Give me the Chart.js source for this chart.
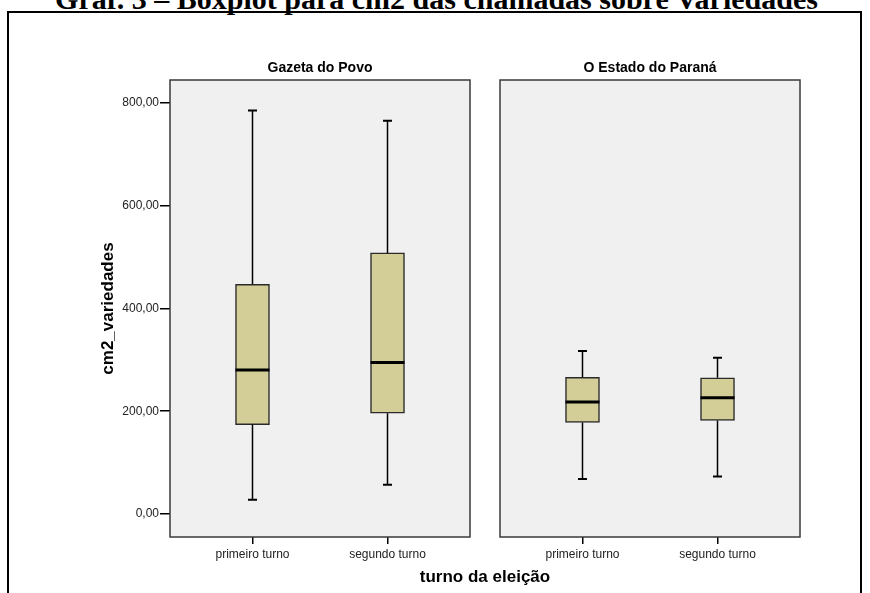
<!DOCTYPE html>
<html>
<head>
<meta charset="utf-8">
<script src="https://cdn.jsdelivr.net/npm/chart.js@4.4.0/dist/chart.umd.min.js"></script>
<style>
  body { margin: 0; background: #fff; width: 870px; height: 593px; overflow: hidden; position: relative; }
  #titulo { position: absolute; left: 0; top: -18px; width: 873px; line-height: 30px; text-align: center;
            font: bold 30px "Liberation Serif", "Times New Roman", serif; color: #000; white-space: nowrap; }
  #moldura { position: absolute; left: 7px; top: 11px; width: 851px; height: 620px; border: 2px solid #000; }
  #c1 { position: absolute; left: 0; top: 0; }
  #c2 { position: absolute; left: 485px; top: 0; }
  #eixo-x { position: absolute; left: 335px; top: 567px; width: 300px; line-height: 20px; text-align: center;
            font: bold 17px "Liberation Sans", Arial, sans-serif; color: #000; }
</style>
</head>
<body>
<div id="moldura"></div>
<div id="titulo">Graf. 3 – Boxplot para cm2 das chamadas sobre Variedades</div>
<canvas id="c1" width="485" height="593"></canvas>
<canvas id="c2" width="385" height="593"></canvas>
<div id="eixo-x">turno da eleição</div>
<script>
// categorias e paineis
const categorias = ['primeiro turno', 'segundo turno'];
const jornais = ['Gazeta do Povo', 'O Estado do Paraná'];
const yTicks = [0, 200, 400, 600, 800];
const yTickLabels = ['0,00', '200,00', '400,00', '600,00', '800,00'];

// Gazeta do Povo (primeiro turno, segundo turno)
const gazetaMin = [28, 57];
const gazetaQ1 = [174, 196];
const gazetaMediana = [280, 295];
const gazetaQ3 = [447, 508];
const gazetaMax = [785, 765];

// O Estado do Paraná
const estadoMin = [68, 73];
const estadoQ1 = [178, 182];
const estadoMediana = [218, 226];
const estadoQ3 = [266, 265];
const estadoMax = [317, 304];

const fonte = '"Liberation Sans", Arial, sans-serif';

function criaPainel(canvasId, titulo, vMin, vQ1, vMed, vQ3, vMax, comEixoY) {
    const ctx = document.getElementById(canvasId).getContext('2d');

    // fundo e moldura do painel, titulo do painel, bigodes e mediana
    const caixaPlugin = {
        id: 'caixa' + canvasId,
        beforeDraw(chart) {
            const a = chart.chartArea;
            const c = chart.ctx;
            c.save();
            c.fillStyle = '#f0f0f0';
            c.fillRect(a.left, a.top, a.right - a.left, a.bottom - a.top);
            c.fillStyle = '#000';
            c.font = 'bold 14px ' + fonte;
            c.textAlign = 'center';
            c.textBaseline = 'middle';
            c.fillText(titulo, (a.left + a.right) / 2, 68);
            c.restore();
        },
        afterDatasetsDraw(chart) {
            const c = chart.ctx;
            const sx = chart.scales.x, sy = chart.scales.y;
            c.save();
            c.strokeStyle = '#000';
            for (let i = 0; i < categorias.length; i++) {
                const x = sx.getPixelForValue(i);
                // bigodes
                c.lineWidth = 1.5;
                c.beginPath();
                c.moveTo(x, sy.getPixelForValue(vQ3[i]));
                c.lineTo(x, sy.getPixelForValue(vMax[i]));
                c.moveTo(x, sy.getPixelForValue(vQ1[i]));
                c.lineTo(x, sy.getPixelForValue(vMin[i]));
                c.stroke();
                // extremidades
                c.lineWidth = 2;
                c.beginPath();
                c.moveTo(x - 4.5, sy.getPixelForValue(vMax[i]));
                c.lineTo(x + 4.5, sy.getPixelForValue(vMax[i]));
                c.moveTo(x - 4.5, sy.getPixelForValue(vMin[i]));
                c.lineTo(x + 4.5, sy.getPixelForValue(vMin[i]));
                c.stroke();
                // mediana
                c.lineWidth = 3;
                c.beginPath();
                c.moveTo(x - 17, sy.getPixelForValue(vMed[i]));
                c.lineTo(x + 17, sy.getPixelForValue(vMed[i]));
                c.stroke();
            }
            c.restore();
        },
        afterDraw(chart) {
            const a = chart.chartArea;
            const c = chart.ctx;
            c.save();
            c.strokeStyle = '#3a3a3a';
            c.lineWidth = 1.5;
            c.strokeRect(a.left, a.top, a.right - a.left, a.bottom - a.top);
            c.restore();
        }
    };

    return new Chart(ctx, {
        type: 'bar',
        data: {
            datasets: [{
                data: categorias.map((c, i) => ({ x: i, y: [vQ1[i], vQ3[i]] })),
                backgroundColor: '#d3ce97',
                borderColor: '#2a2a2a',
                borderWidth: 1.5,
                borderSkipped: false,
                barThickness: 34
            }]
        },
        options: {
            responsive: false,
            animation: false,
            layout: { padding: { left: comEixoY ? 0 : 15, right: comEixoY ? 15 : 70, top: 80, bottom: 0 } },
            plugins: {
                legend: { display: false },
                tooltip: { enabled: false },
                title: { display: false }
            },
            scales: {
                x: {
                    type: 'linear',
                    offset: false,
                    min: -0.611,
                    max: 1.611,
                    afterBuildTicks: s => { s.ticks = categorias.map((c, i) => ({ value: i })); },
                    afterFit: s => { s.height = 56; },
                    border: { display: false },
                    grid: { offset: false, drawOnChartArea: false, drawTicks: true, tickLength: 7, color: '#000', lineWidth: 1.5 },
                    ticks: {
                        color: '#222',
                        font: { family: fonte, size: 12 },
                        padding: 3,
                        maxRotation: 0,
                        autoSkip: false,
                        callback: v => categorias[v]
                    }
                },
                y: {
                    display: comEixoY,
                    min: -44.7,
                    max: 844.4,
                    afterBuildTicks: s => { s.ticks = yTicks.map(v => ({ value: v })); },
                    afterFit: s => { if (comEixoY) s.width = 170; },
                    border: { display: false },
                    grid: { drawOnChartArea: false, drawTicks: true, tickLength: 10, color: '#000', lineWidth: 1.5 },
                    ticks: {
                        color: '#222',
                        font: { family: fonte, size: 12 },
                        padding: 1,
                        callback: (v, i) => yTickLabels[i]
                    },
                    title: {
                        display: true,
                        text: 'cm2_variedades',
                        color: '#000',
                        font: { family: fonte, size: 17, weight: 'bold' },
                        padding: { top: 97.8 }
                    }
                }
            }
        },
        plugins: [caixaPlugin]
    });
}

criaPainel('c1', jornais[0], gazetaMin, gazetaQ1, gazetaMediana, gazetaQ3, gazetaMax, true);
criaPainel('c2', jornais[1], estadoMin, estadoQ1, estadoMediana, estadoQ3, estadoMax, false);
</script>
</body>
</html>
